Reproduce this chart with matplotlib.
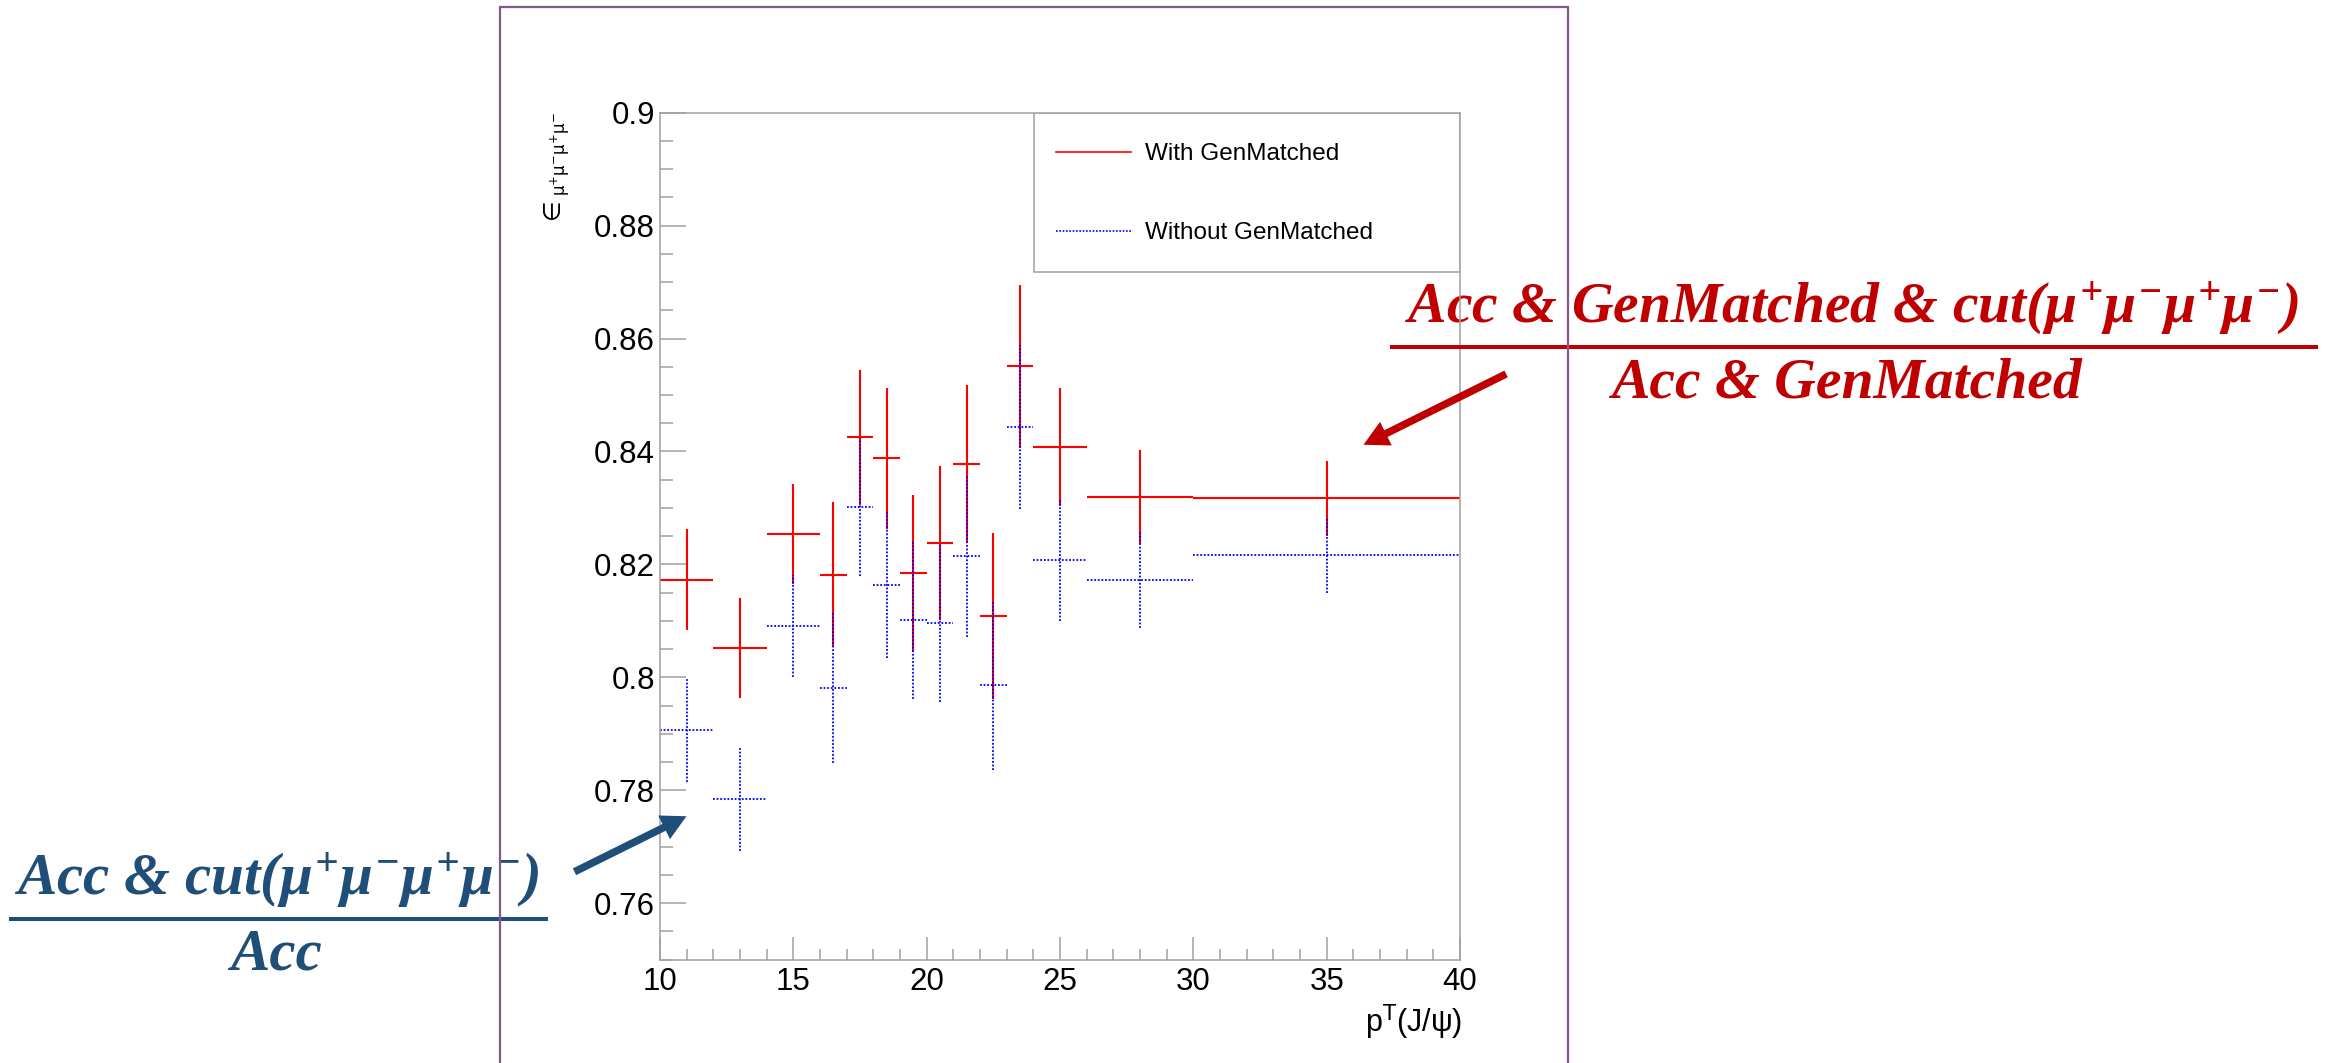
import matplotlib
matplotlib.use('Agg')
import matplotlib.pyplot as plt
from matplotlib.lines import Line2D
from matplotlib.patches import Rectangle, FancyArrowPatch
from matplotlib.ticker import MultipleLocator, FuncFormatter
from matplotlib.transforms import IdentityTransform

# pT bins of the J/psi
bin_lo = [10, 12, 14, 16, 17, 18, 19, 20, 21, 22, 23, 24, 26, 30]
bin_hi = [12, 14, 16, 17, 18, 19, 20, 21, 22, 23, 24, 26, 30, 40]

# efficiency with gen matching (red) and without (blue)
eff_gen = [0.8173, 0.8052, 0.8254, 0.8182, 0.8425, 0.8388, 0.8184,
           0.8238, 0.8377, 0.8108, 0.8551, 0.8408, 0.8319, 0.8317]
err_gen = [0.0089, 0.0089, 0.0088, 0.0128, 0.0120, 0.0125, 0.0139,
           0.0136, 0.0140, 0.0147, 0.0144, 0.0104, 0.0083, 0.0066]
eff_nogen = [0.7906, 0.7785, 0.8091, 0.7981, 0.8302, 0.8164, 0.8101,
             0.8096, 0.8215, 0.7986, 0.8443, 0.8208, 0.8173, 0.8217]
err_nogen = [0.0092, 0.0092, 0.0090, 0.0133, 0.0122, 0.0129, 0.0140,
             0.0139, 0.0143, 0.0150, 0.0145, 0.0108, 0.0086, 0.0067]

labels = ['With GenMatched', 'Without GenMatched']

W, H = 2346, 1063
plt.rcParams['font.family'] = ['Liberation Sans', 'DejaVu Sans']
plt.rcParams['mathtext.fontset'] = 'custom'
plt.rcParams['mathtext.rm'] = 'Liberation Serif:bold:italic'
plt.rcParams['mathtext.it'] = 'Liberation Serif:bold:italic'
plt.rcParams['mathtext.bf'] = 'Liberation Serif:bold:italic'


def fx(x):
    return x / W


def fy(y):
    return 1 - y / H


xc = [(a + b) / 2 for a, b in zip(bin_lo, bin_hi)]
xw = [(b - a) / 2 for a, b in zip(bin_lo, bin_hi)]

fig = plt.figure(figsize=(W / 100, H / 100), dpi=100)
ax = fig.add_axes([fx(660), fy(959.6), 800 / W, 846.9 / H])
ax.set_facecolor('none')

ax.errorbar(xc, eff_gen, xerr=xw, yerr=err_gen, fmt='none',
            ecolor='#ff0000', elinewidth=1.5, capsize=0)
eb = ax.errorbar(xc, eff_nogen, xerr=xw, yerr=err_nogen, fmt='none',
                 ecolor='#0000ff', elinewidth=1.3, capsize=0)
for lc in eb[2]:
    lc.set_linestyle((0, (1, 1)))

ax.set_xlim(10, 40)
ax.set_ylim(0.75, 0.9)
ax.xaxis.set_major_locator(MultipleLocator(5))
ax.xaxis.set_minor_locator(MultipleLocator(1))
ax.yaxis.set_major_locator(MultipleLocator(0.02))
ax.yaxis.set_minor_locator(MultipleLocator(0.005))
ax.yaxis.set_major_formatter(FuncFormatter(lambda v, p: f'{round(v, 3):g}'))

grey = '#a0a0a0'
for s in ax.spines.values():
    s.set_color(grey)
    s.set_linewidth(1.1)
ax.tick_params(axis='both', which='both', direction='in', color=grey,
               width=1.1, top=False, right=False, labelsize=22.5)
ax.tick_params(axis='y', which='major', length=18.7, pad=3.6)
ax.tick_params(axis='y', which='minor', length=9.4)
ax.tick_params(axis='x', which='major', length=16.6, pad=5.6)
ax.tick_params(axis='x', which='minor', length=8)

# legend
ax.add_patch(Rectangle((0.4675, 0.8123), 0.5325, 0.1877, transform=ax.transAxes,
                       fill=False, ec=grey, lw=1.1))
handles = [Line2D([], [], color='#ff0000', lw=1.2),
           Line2D([], [], color='#0000ff', lw=1.2, ls=(0, (1, 1)))]
ax.legend(handles, labels, loc='upper left', bbox_to_anchor=(0.4675, 0.99),
          frameon=False, fontsize=17.5, handlelength=3.1, handletextpad=0.55,
          labelspacing=2.35, borderpad=0.9, borderaxespad=0)

# axis titles, ROOT style
fig.text(fx(557.5), fy(112),
         r'$\in_{\mathrm{\mu}^{+}\mathrm{\mu}^{-}\mathrm{\mu}^{+}\mathrm{\mu}^{-}}$',
         rotation=90, ha='center', va='top', fontsize=17,
         math_fontfamily='dejavusans')
fig.text(fx(1462), fy(1022), r'p$^{\mathrm{T}}$(J/ψ)', ha='right', va='center',
         fontsize=22, math_fontfamily='dejavusans')

# fraction annotations
red_col = '#c00000'
blue_col = '#1f4e79'
serif = dict(family='Liberation Serif', weight='bold', style='italic',
             math_fontfamily='custom', zorder=-1)
mu4 = r'$\mu^{+}\mu^{-}\mu^{+}\mu^{-}$'

fig.text(fx(1852), fy(321.7), 'Acc & GenMatched & cut(' + mu4 + ')', ha='center',
         va='baseline', fontsize=41.5, color=red_col, **serif)
fig.text(fx(1847), fy(397.7), 'Acc & GenMatched', ha='center', va='baseline',
         fontsize=41.5, color=red_col, **serif)
fig.add_artist(Line2D([fx(1392), fx(2316)], [fy(347.3)] * 2, color=red_col, lw=2.9))

fig.text(fx(277), fy(895), 'Acc & cut(' + mu4 + ')', ha='center', va='baseline',
         fontsize=42.5, color=blue_col, **serif)
fig.text(fx(276), fy(970), 'Acc', ha='center', va='baseline', fontsize=42.5,
         color=blue_col, **serif)
fig.add_artist(Line2D([fx(11), fx(546)], [fy(919)] * 2, color=blue_col, lw=2.9))

style = 'simple,head_length=0.9,head_width=0.95,tail_width=0.27'
fig.add_artist(FancyArrowPatch((1508.6, H - 372.7), (1361, H - 446),
                               arrowstyle=style, mutation_scale=20, fc=red_col,
                               ec='none', transform=IdentityTransform()))
fig.add_artist(FancyArrowPatch((572, H - 873), (689, H - 815),
                               arrowstyle=style, mutation_scale=20, fc=blue_col,
                               ec='none', transform=IdentityTransform()))

# purple slide frame
fig.add_artist(Rectangle((fx(500), -0.1), (1568 - 500) / W, fy(7) + 0.1,
                         transform=fig.transFigure, fill=False, ec='#86588a',
                         lw=1.6, zorder=5))

fig.savefig('out.png', dpi=100)
